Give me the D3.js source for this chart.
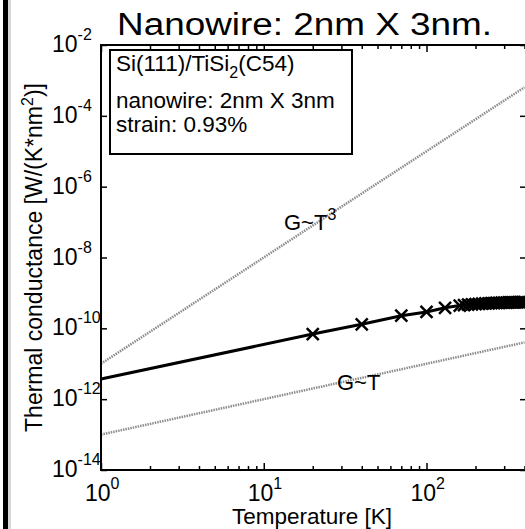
<!DOCTYPE html>
<html lang="en">
<head>
    <meta charset="UTF-8">
    <title>Nanowire thermal conductance</title>
    <script src="https://d3js.org/d3.v7.min.js"></script>
    <style>
        body { margin: 0; background: #fff; }
        svg text { font-family: "Liberation Sans", Arial, sans-serif; fill: #000; }
        .axis path { display: none; }
        .axis line { stroke: #000; stroke-width: 1.5px; }
        .ref { fill: none; stroke: #8c8c8c; stroke-width: 2.5px; stroke-dasharray: 1.5 1; }
        .data { fill: none; stroke: #000; stroke-width: 3px; }
        .mark { stroke: #000; stroke-width: 2.5px; }
    </style>
</head>
<body>
    <div class="chart"></div>
    <script>
        // measured points (T in K, G in W/(K*nm^2))
        const temps = [20, 40, 70, 100, 130, 160, 170, 180, 190, 200, 210, 220, 230, 240, 250,
                       260, 270, 280, 290, 300, 310, 320, 330, 340, 350, 360, 370, 380, 390, 400];
        const conductance = [6.9e-11, 1.3e-10, 2.27e-10, 2.9e-10, 3.8e-10, 4.4e-10, 4.55e-10, 4.65e-10,
                             4.75e-10, 4.83e-10, 4.9e-10, 4.97e-10, 5.03e-10, 5.08e-10, 5.13e-10,
                             5.17e-10, 5.21e-10, 5.25e-10, 5.28e-10, 5.31e-10, 5.34e-10, 5.36e-10,
                             5.38e-10, 5.4e-10, 5.42e-10, 5.44e-10, 5.46e-10, 5.47e-10, 5.49e-10, 5.5e-10];
        // low-T start of the solid line (no marker)
        const startT = 1;
        const startG = 3.7e-12;

        // guide lines G~T^3 and G~T, end points
        const refT = [1, 400];
        const refCubic = [1e-11, 6.4e-4];
        const refLinear = [1e-13, 4e-11];

        const xMajor = [1, 10, 100];
        const yTickExp = [-14, -12, -10, -8, -6, -4, -2];
        const legendLines = ['Si(111)/TiSi', 'nanowire: 2nm X 3nm', 'strain: 0.93%'];

        const W = 525, H = 529;
        const pLeft = 101, pRight = 526, pTop = 45, pBottom = 470;

        const svg = d3.select('.chart').append('svg')
            .attr('width', W)
            .attr('height', H);

        const x = d3.scaleLog().domain([1, 400]).range([pLeft, pRight - 1.5]);
        const y = d3.scaleLog().domain([1e-14, 1e-2]).range([pBottom, pTop]);

        // window edge on the left
        svg.append('rect').attr('x', 3).attr('y', 0).attr('width', 5).attr('height', H).attr('fill', '#000');
        svg.append('rect').attr('x', 8).attr('y', 0).attr('width', 3).attr('height', H).attr('fill', '#d8d8d8');

        // ticks
        const xAll = x.ticks().filter(d => d >= 1 && d <= 400);
        const xMinor = xAll.filter(d => !xMajor.includes(d));
        const yVals = yTickExp.map(e => Math.pow(10, e));

        function xTicks(axis, size, vals, yPos) {
            svg.append('g').attr('class', 'axis')
                .attr('transform', `translate(0,${yPos})`)
                .call(axis(x).tickValues(vals).tickSize(size).tickFormat(''));
        }
        xTicks(d3.axisBottom, -7, xMajor, pBottom);
        xTicks(d3.axisBottom, -4, xMinor, pBottom);
        xTicks(d3.axisTop, -7, xMajor, pTop);
        xTicks(d3.axisTop, -4, xMinor, pTop);

        svg.append('g').attr('class', 'axis')
            .attr('transform', `translate(${pLeft},0)`)
            .call(d3.axisLeft(y).tickValues(yVals).tickSize(-6).tickFormat(''));
        svg.append('g').attr('class', 'axis')
            .attr('transform', `translate(${pRight},0)`)
            .call(d3.axisRight(y).tickValues(yVals).tickSize(-6).tickFormat(''));

        // guide lines
        const line = d3.line().x(d => x(d[0])).y(d => y(d[1]));
        svg.append('path').attr('class', 'ref').attr('d', line(d3.zip(refT, refCubic)));
        svg.append('path').attr('class', 'ref').attr('d', line(d3.zip(refT, refLinear)));

        // data line + x markers
        const pts = d3.zip([startT, ...temps], [startG, ...conductance]);
        svg.append('path').attr('class', 'data').attr('d', line(pts));
        const m = 6;
        svg.append('g').selectAll('path')
            .data(d3.zip(temps, conductance))
            .join('path')
            .attr('class', 'mark')
            .attr('d', d => {
                const cx = x(d[0]), cy = y(d[1]);
                return `M${cx - m},${cy - m}L${cx + m},${cy + m}M${cx - m},${cy + m}L${cx + m},${cy - m}`;
            });

        // guide labels
        const g3 = svg.append('text').attr('x', 284).attr('y', 230).attr('font-size', 22);
        g3.append('tspan').text('G~T');
        g3.append('tspan').attr('dy', -10).attr('font-size', 16).text('3');
        svg.append('text').attr('x', 337).attr('y', 390).attr('font-size', 22).text('G~T');

        // frame
        svg.append('path')
            .attr('d', `M${pLeft},${pTop}H${pRight}V${pBottom}H${pLeft}Z`)
            .attr('fill', 'none').attr('stroke', '#000').attr('stroke-width', 2);

        // legend box
        svg.append('rect').attr('x', 110).attr('y', 50).attr('width', 242).attr('height', 104)
            .attr('fill', '#fff').attr('stroke', '#000').attr('stroke-width', 2);
        const l1 = svg.append('text').attr('x', 116).attr('y', 71).attr('font-size', 22.5);
        l1.append('tspan').text(legendLines[0]);
        l1.append('tspan').attr('dy', 7).attr('font-size', 16).text('2');
        l1.append('tspan').attr('dy', -7).text('(C54)');
        svg.append('text').attr('x', 116).attr('y', 108).attr('font-size', 22.5).text(legendLines[1]);
        svg.append('text').attr('x', 116).attr('y', 132).attr('font-size', 22.5).text(legendLines[2]);

        // y tick labels
        yTickExp.forEach(e => {
            const t = svg.append('text').attr('x', 52).attr('y', y(Math.pow(10, e)) + 7).attr('font-size', 23);
            t.append('tspan').text('10');
            t.append('tspan').attr('dy', -12).attr('font-size', 16).text('-' + Math.abs(e));
        });

        // x tick labels
        xMajor.forEach(v => {
            const t = svg.append('text').attr('x', x(v) - 16).attr('y', 501).attr('font-size', 23);
            t.append('tspan').text('10');
            t.append('tspan').attr('dy', -12).attr('font-size', 16).text(String(Math.round(Math.log10(v))));
        });

        // axis titles
        svg.append('text').attr('x', 312).attr('y', 524).attr('text-anchor', 'middle')
            .attr('font-size', 22.5).text('Temperature [K]');
        const yl = svg.append('text')
            .attr('transform', `translate(42,${(pTop + pBottom) / 2}) rotate(-90)`)
            .attr('text-anchor', 'middle').attr('font-size', 23);
        yl.append('tspan').text('Thermal conductance [W/(K*nm');
        yl.append('tspan').attr('dy', -9).attr('font-size', 16).text('2');
        yl.append('tspan').attr('dy', 9).text(')]');

        // title
        svg.append('text').attr('x', 117).attr('y', 35).attr('font-size', 31)
            .attr('textLength', 375).attr('lengthAdjust', 'spacingAndGlyphs')
            .text('Nanowire: 2nm X 3nm.');
    </script>
</body>
</html>
